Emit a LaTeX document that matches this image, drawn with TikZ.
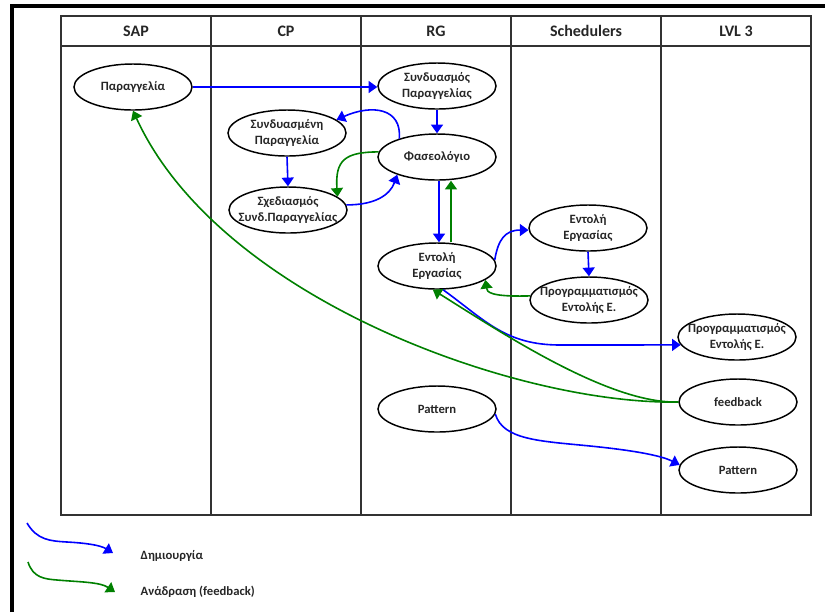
\documentclass[tikz,border=0pt]{standalone}
\usepackage{fontspec}
\setmainfont{Carlito}
\usetikzlibrary{shapes.geometric, arrows.meta, positioning}
\definecolor{flowblue}{RGB}{0,0,255}
\definecolor{fbgreen}{RGB}{0,128,0}
\definecolor{lanegray}{RGB}{50,50,50}
\tikzset{
  task/.style={ellipse, draw=black, line width=1.1pt, minimum width=88.5pt, minimum height=34.5pt,
    inner xsep=-10pt, inner ysep=-2pt, align=center, font=\fontsize{9.5}{11.5}\selectfont\bfseries,
    text=black!85},
  lane/.style={draw=lanegray, line width=1.1pt},
  lanehead/.style={font=\fontsize{12}{14}\selectfont\bfseries, text=black!85},
  create/.style={draw=flowblue, line width=1.2pt, -{Triangle[length=6.5pt,width=9pt]}},
  fback/.style={draw=fbgreen, line width=1.2pt, -{Triangle[length=6.5pt,width=9pt]}},
  legtext/.style={anchor=west, font=\fontsize{9.5}{11}\selectfont\bfseries, text=black!85}
}
\begin{document}
\begin{tikzpicture}[x=0.75pt, y=-0.75pt]
    \useasboundingbox (0,0) rectangle (825,612);
    % frame and lanes
    \draw[line width=2.4pt] (12,612) -- (12,6) -- (825,6);
    \draw[lane] (61,16) rectangle (811,515);
    \draw[lane] (61,46) -- (811,46);
    \foreach \x in {211, 361, 511, 661}
        \draw[lane] (\x,16) -- (\x,515);
    \foreach \x/\name [count=\i] in {136/SAP, 286/CP, 436/RG, 586/Schedulers, 736/LVL 3}
        \node[lanehead] (hd\i) at (\x,31) {\name};

    % tasks
    \node[task] (par) at (133,87) {Παραγγελία};
    \node[task] (sps) at (437,86) {Συνδυασμός\\Παραγγελίας};
    \node[task] (sdm) at (287,133) {Συνδυασμένη\\Παραγγελία};
    \node[task] (sxd) at (288,210) {Σχεδιασμός\\Συνδ.Παραγγελίας};
    \node[task] (fas) at (437,157) {Φασεολόγιο};
    \node[task] (ent) at (437,266) {Εντολή\\Εργασίας};
    \node[task] (ents) at (588,228) {Εντολή\\Εργασίας};
    \node[task] (prgs) at (589,300) {Προγραμματισμός\\Εντολής Ε.};
    \node[task] (prgl) at (737,337) {Προγραμματισμός\\Εντολής Ε.};
    \node[task] (fdb) at (738,402) {feedback};
    \node[task] (patr) at (437,409) {Pattern};
    \node[task] (patl) at (738,470) {Pattern};

    % creation
    \draw[create] (par.east) -- (par.east -| sps.west);
    \draw[create] (sps.south) -- (fas.north);
    \draw[create] (fas.154) .. controls (402,108) and (372,104) .. (sdm.15);
    \draw[create] (sdm.south) -- (sxd.north);
    \draw[create] (sxd.5) .. controls (375,205) and (390,195) .. (fas.204);
    \draw[create] ([xshift=1.5pt]fas.south) -- ([xshift=1.5pt]ent.north);
    \draw[create] (ent.6) .. controls (498,240) and (505,230) .. (ents.182);
    \draw[create] (ents.south) -- (prgs.north);
    \draw[create] (ent.-76) .. controls (485,320) and (505,345) .. (560,345) -- (prgl.188);
    \draw[create] (patr.-5) .. controls (503,440) and (540,441) .. (590,446)
        .. controls (630,450) and (660,455) .. (patl.175);

    % feedback
    \draw[fback] (fas.175) .. controls (345,152) and (335,160) .. (sxd.15);
    \draw[fback] ([xshift=10.5pt]ent.north) -- ([xshift=10.5pt]fas.south);
    \draw[fback] (prgs.176) .. controls (490,297) and (487,292) .. (ent.344);
    \draw[fback] (fdb.west) .. controls (610,404) and (505,335) .. (ent.260);
    \draw[fback] (fdb.west) .. controls (520,405) and (220,300) .. (par.south);

    % legend
    \coordinate (lgb0) at (27,523);
    \coordinate (lgb1) at (113,553);
    \coordinate (lgg0) at (28,562);
    \coordinate (lgg1) at (115,592);
    \draw[create] (lgb0) .. controls (37,540) and (50,541) .. (67,542)
        .. controls (85,543) and (100,545) .. (lgb1);
    \draw[fback] (lgg0) .. controls (33,578) and (45,579) .. (57,580)
        .. controls (80,582) and (100,582) .. (lgg1);
    \node[legtext] (lgbt) at (136,556) {Δημιουργία};
    \node[legtext] (lggt) at (136,592) {Ανάδραση (feedback)};
\end{tikzpicture}
\end{document}
